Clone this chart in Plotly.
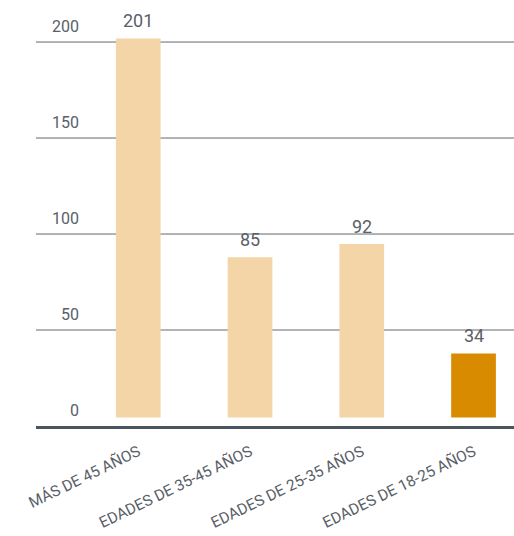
import plotly.graph_objects as go

# Age groups and counts
categories = ["MÁS DE 45 AÑOS", "EDADES DE 35-45 AÑOS", "EDADES DE 25-35 AÑOS", "EDADES DE 18-25 AÑOS"]
values = [201, 85, 92, 34]
colors = ["#F3D5A8", "#F3D5A8", "#F3D5A8", "#D98B00"]
tick_values = [0, 50, 100, 150, 200]
tick_labels = ["0", "50", "100", "150", "200"]

FONT = "Roboto, sans-serif"
TEXT = "#596068"
GRID = "#626970"

xpos = list(range(len(categories)))

fig = go.Figure(
    go.Bar(
        x=xpos,
        y=values,
        marker=dict(color=colors, line=dict(width=0)),
        width=0.40,
        hoverinfo="skip",
    )
)

# value labels above the bars
for x, v in zip(xpos, values):
    fig.add_annotation(
        x=x, y=v, text=str(v), showarrow=False,
        xanchor="center", yanchor="bottom", yshift=5,
        font=dict(family=FONT, size=18, color=TEXT),
    )

# ruler scale: its own overlaid axis, zero on the baseline
for tv, tl in zip(tick_values, tick_labels):
    if tv > 0:
        fig.add_shape(
            type="line", xref="paper", x0=0, x1=1, yref="y2", y0=tv, y1=tv,
            line=dict(color=GRID, width=1), layer="below",
        )
    fig.add_annotation(
        xref="paper", x=45 / 478, y=tv, yref="y2", text=tl, showarrow=False,
        xanchor="right", yanchor="bottom", yshift=4,
        font=dict(family=FONT, size=16, color=TEXT),
    )

fig.update_layout(
    width=514,
    height=536,
    margin=dict(l=36, r=0, t=0, b=110),
    paper_bgcolor="white",
    plot_bgcolor="white",
    showlegend=False,
    xaxis=dict(
        range=[-0.915, 3.362],
        tickmode="array",
        tickvals=xpos,
        ticktext=categories,
        tickangle=-26,
        ticks="",
        showgrid=False,
        zeroline=False,
        showline=True,
        linecolor="#4B555D",
        linewidth=3,
        ticklabelstandoff=8,
        tickfont=dict(family=FONT, size=15.5, color=TEXT),
        fixedrange=True,
    ),
    yaxis=dict(
        range=[-4.5, 221.4],
        showgrid=False,
        zeroline=False,
        showticklabels=False,
        showline=False,
        fixedrange=True,
    ),
    yaxis2=dict(
        range=[0, 221.9],
        overlaying="y",
        showgrid=False,
        zeroline=False,
        showticklabels=False,
        showline=False,
        fixedrange=True,
    ),
)

fig.write_html("out.html")
